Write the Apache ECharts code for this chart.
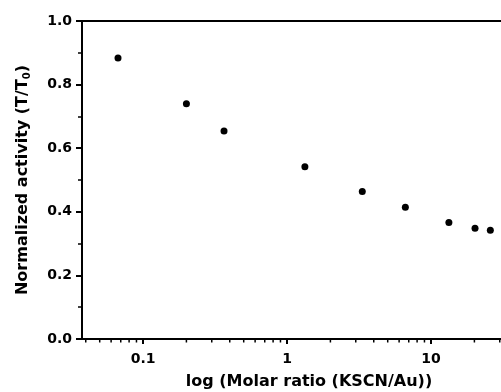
<!DOCTYPE html>
<html>
<head>
<meta charset="utf-8">
<script src="https://cdn.jsdelivr.net/npm/echarts@6/dist/echarts.min.js"></script>
<style>
  html, body { margin: 0; padding: 0; background: #fff; }
  #chart { width: 501px; height: 392px; }
</style>
</head>
<body>
<div id="chart"></div>
<script>
// molar ratio KSCN/Au (x) and normalized activity T/T0 (y)
const ratio = [0.067, 0.2, 0.365, 1.33, 3.33, 6.63, 13.3, 20.2, 25.8]
const activity = [0.884, 0.74, 0.654, 0.542, 0.464, 0.414, 0.366, 0.348, 0.342]
const xTickLabels = ['0.1', '1', '10']
const xMinorTicks = [0.04, 0.05, 0.06, 0.07, 0.08, 0.09,
  0.2, 0.3, 0.4, 0.5, 0.6, 0.7, 0.8, 0.9,
  2, 3, 4, 5, 6, 7, 8, 9, 20, 30]
const yTickLabels = ['0.0', '0.2', '0.4', '0.6', '0.8', '1.0']

const font = 'DejaVu Sans'
const xMin = 0.03767
const xMax = 30.6

const chart = echarts.init(document.getElementById('chart'))

const option = {
  animation: false,
  grid: {
    left: 82,
    right: 0,
    top: 21,
    bottom: 53,
    outerBoundsMode: 'none'
  },
  xAxis: [{
    type: 'log',
    logBase: 10,
    min: xMin,
    max: xMax,
    name: 'log (Molar ratio (KSCN/Au))',
    nameLocation: 'middle',
    nameGap: 35,
    nameTextStyle: {
      fontFamily: font, fontWeight: 'bold', fontSize: 16, color: '#000',
      padding: [0, 0, 0, 35]
    },
    axisLine: { lineStyle: { color: '#000', width: 2 } },
    axisTick: { show: true, length: 5, lineStyle: { color: '#000', width: 2 } },
    minorTick: { show: false },
    splitLine: { show: false },
    axisLabel: {
      margin: 13,
      fontFamily: font,
      fontWeight: 'bold',
      fontSize: 14,
      color: '#000',
      showMinLabel: false,
      showMaxLabel: false,
      formatter: function (v) {
        const s = String(+v.toPrecision(3))
        return xTickLabels.indexOf(s) >= 0 ? s : ''
      }
    }
  }, {
    // top frame line only
    type: 'log',
    logBase: 10,
    position: 'top',
    min: xMin,
    max: xMax,
    axisLine: { show: true, lineStyle: { color: '#000', width: 2 } },
    axisTick: { show: false },
    axisLabel: { show: false },
    splitLine: { show: false }
  }],
  yAxis: {
    type: 'value',
    min: 0,
    max: 1,
    interval: 0.2,
    name: '{a|Normalized activity (T/T}{s|0}{a|)}',
    nameLocation: 'middle',
    nameGap: 50,
    nameTextStyle: {
      color: '#000',
      rich: {
        a: { fontFamily: font, fontWeight: 'bold', fontSize: 16, color: '#000' },
        s: { fontFamily: font, fontWeight: 'bold', fontSize: 10, color: '#000', verticalAlign: 'bottom', padding: [8, 0, 0, 0] }
      }
    },
    axisLine: { show: true, lineStyle: { color: '#000', width: 2 } },
    axisTick: { show: true, length: 6, lineStyle: { color: '#000', width: 2 } },
    minorTick: { show: true, splitNumber: 2, length: 4, lineStyle: { color: '#000', width: 1.5 } },
    splitLine: { show: false },
    axisLabel: {
      margin: 10,
      fontFamily: font,
      fontWeight: 'bold',
      fontSize: 14,
      color: '#000',
      formatter: function (v, i) { return yTickLabels[i] }
    }
  },
  series: [{
    type: 'scatter',
    symbol: 'circle',
    symbolSize: 7,
    itemStyle: { color: '#000', opacity: 1 },
    data: ratio.map((r, i) => [r, activity[i]])
  }, {
    // log-spaced minor ticks on the bottom axis
    type: 'custom',
    silent: true,
    clip: false,
    data: xMinorTicks.map(v => [v, 0]),
    renderItem: function (params, api) {
      const p = api.coord([api.value(0), 0])
      return {
        type: 'line',
        shape: { x1: p[0], y1: p[1], x2: p[0], y2: p[1] + 3.5 },
        style: { stroke: '#000', lineWidth: 1.5 }
      }
    }
  }]
}

chart.setOption(option)
</script>
</body>
</html>
